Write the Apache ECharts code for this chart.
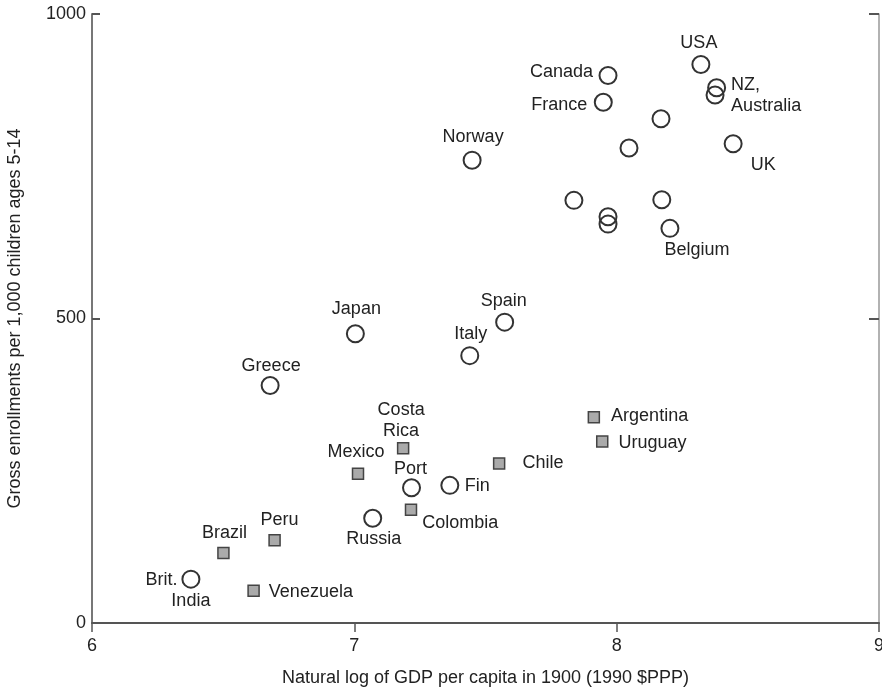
<!DOCTYPE html>
<html><head><meta charset="utf-8">
<script src="https://cdn.jsdelivr.net/npm/echarts/dist/echarts.min.js"></script>
<style>html,body{margin:0;padding:0;background:#fff;overflow:hidden}#c{width:882px;height:692px}</style>
</head><body><div id="c"></div>
<script>
// Circles (hollow markers)
const circleNames = ['USA','Canada','NZ','Australia','France','','','UK','Norway','','','','','Belgium',
  'Spain','Japan','Italy','Greece','Port','Fin','Russia','Brit. India'];
const circleX = [8.321,7.967,8.381,8.375,7.949,8.169,8.047,8.444,7.449,7.837,8.172,7.967,7.967,8.203,
  7.573,7.004,7.440,6.679,7.218,7.364,7.070,6.377];
const circleY = [917,899,879,867,855,828,780,787,760,694,695,667,655,648,
  494,475,439,390,222,226,172,72];
// Squares (grey filled markers)
const squareNames = ['Costa Rica','Mexico','Colombia','Chile','Peru','Brazil','Venezuela','Argentina','Uruguay'];
const squareX = [7.186,7.014,7.216,7.552,6.696,6.501,6.616,7.913,7.945];
const squareY = [287,245,186,262,136,115,53,338,298];
// Axis ticks
const xTicks = [6,7,8,9];
const yTicks = [0,500,1000];
const xTitle = 'Natural log of GDP per capita in 1900 (1990 $PPP)';
const yTitle = 'Gross enrollments per 1,000 children ages 5-14';

const labelText = {'NZ':'NZ,\nAustralia','Australia':'','Costa Rica':'Costa\nRica','Brit. India':'{a|Brit.}\n{b|India}'};
const place = {
 'USA': {p:'inside', dx:-2, dy:-22},
 'Canada': {p:'left', d:5.5, dy:-3},
 'France': {p:'left', d:6.5, dy:3},
 'NZ': {p:'right', d:5, dy:8},
 'UK': {p:'inside', dx:30, dy:21},
 'Norway': {p:'inside', dx:1, dy:-23},
 'Belgium': {p:'inside', dx:27, dy:22},
 'Spain': {p:'inside', dx:-1, dy:-21},
 'Japan': {p:'inside', dx:1, dy:-25},
 'Italy': {p:'inside', dx:1, dy:-22},
 'Greece': {p:'inside', dx:1, dy:-19},
 'Port': {p:'inside', dx:-1, dy:-19},
 'Fin': {p:'right', d:5.5, dy:1},
 'Russia': {p:'inside', dx:1, dy:21},
 'Brit. India': {p:'inside', dx:-13, dy:11},
 'Costa Rica': {p:'inside', dx:-2, dy:-28},
 'Mexico': {p:'inside', dx:-2, dy:-22},
 'Colombia': {p:'right', d:5, dy:13},
 'Chile': {p:'right', d:17, dy:0},
 'Peru': {p:'inside', dx:5, dy:-20},
 'Brazil': {p:'inside', dx:1, dy:-20},
 'Venezuela': {p:'right', d:9, dy:1},
 'Argentina': {p:'right', d:11, dy:-1.5},
 'Uruguay': {p:'right', d:10, dy:1.5}
};
const FONT = "'Liberation Sans', Arial, Helvetica, sans-serif";
const TXT = '#222';

function build(names, xs, ys) {
  return names.map((n, i) => {
    const item = {name: n, value: [xs[i], ys[i]]};
    const txt = (n in labelText) ? labelText[n] : n;
    const pl = place[n];
    if (!txt || !pl) { item.label = {show:false}; return item; }
    const lab = {show:true, formatter: txt, position: pl.p, color: TXT, fontSize: 18,
      fontFamily: FONT, lineHeight: 21, textBorderWidth: 0};
    if (pl.p === 'inside') lab.offset = [pl.dx, pl.dy];
    else { lab.distance = pl.d; lab.offset = [0, pl.dy]; }
    if (n === 'Brit. India') {
      lab.rich = {
        a:{width:65, align:'left', fontSize:18, lineHeight:21, color:TXT, fontFamily:FONT},
        b:{width:65, align:'right', fontSize:18, lineHeight:21, color:TXT, fontFamily:FONT}
      };
    }
    item.label = lab;
    return item;
  });
}

const chart = echarts.init(document.getElementById('c'), null, {renderer:'canvas', width: 882, height: 692});
chart.setOption({
  animation: false,
  backgroundColor: '#fff',
  textStyle: {fontFamily: FONT},
  grid: {left: 92, right: 3, top: 14, bottom: 69, containLabel: false, outerBoundsMode: 'none'},
  xAxis: {
    type: 'value', min: xTicks[0], max: xTicks[xTicks.length-1], interval: 1,
    name: xTitle, nameLocation: 'middle', nameGap: 46,
    nameTextStyle: {fontSize: 18, color: '#222', fontFamily: FONT},
    axisLine: {show: true, onZero: false, lineStyle: {color: '#555', width: 2}},
    axisTick: {show: true, inside: false, length: 9, lineStyle: {color: '#555', width: 1.5}},
    axisLabel: {fontSize: 18, color: TXT, margin: 14, fontFamily: FONT,
      formatter: v => xTicks.includes(v) ? String(v) : ''},
    splitLine: {show: false}
  },
  yAxis: [{
    type: 'value', min: yTicks[0], max: yTicks[yTicks.length-1], interval: 500, position: 'left',
    name: yTitle, nameLocation: 'middle', nameGap: 68, nameRotate: 90,
    nameTextStyle: {fontSize: 18, color: '#222', fontFamily: FONT},
    axisLine: {show: true, lineStyle: {color: '#777', width: 2}},
    axisTick: {show: true, inside: true, length: 8, lineStyle: {color: '#555', width: 2}},
    axisLabel: {fontSize: 18, color: TXT, margin: 6, fontFamily: FONT,
      formatter: v => yTicks.includes(v) ? String(v) : ''},
    splitLine: {show: false}
  }, {
    type: 'value', min: yTicks[0], max: yTicks[yTicks.length-1], interval: 500, position: 'right',
    axisLine: {show: true, lineStyle: {color: '#999', width: 1.5}},
    axisTick: {show: true, inside: true, length: 10, lineStyle: {color: '#555', width: 2}},
    axisLabel: {show: false},
    splitLine: {show: false}
  }],
  series: [{
    type: 'scatter', name: 'circles', symbol: 'circle', symbolSize: 17,
    itemStyle: {color: 'rgba(255,255,255,0)', borderColor: '#333', borderWidth: 2, opacity: 1},
    emphasis: {disabled: true},
    data: build(circleNames, circleX, circleY)
  }, {
    type: 'scatter', name: 'squares', symbol: 'rect', symbolSize: 11,
    itemStyle: {color: '#aaa', borderColor: '#444', borderWidth: 1.5, opacity: 1},
    emphasis: {disabled: true},
    data: build(squareNames, squareX, squareY)
  }]
});
</script>
</body></html>
